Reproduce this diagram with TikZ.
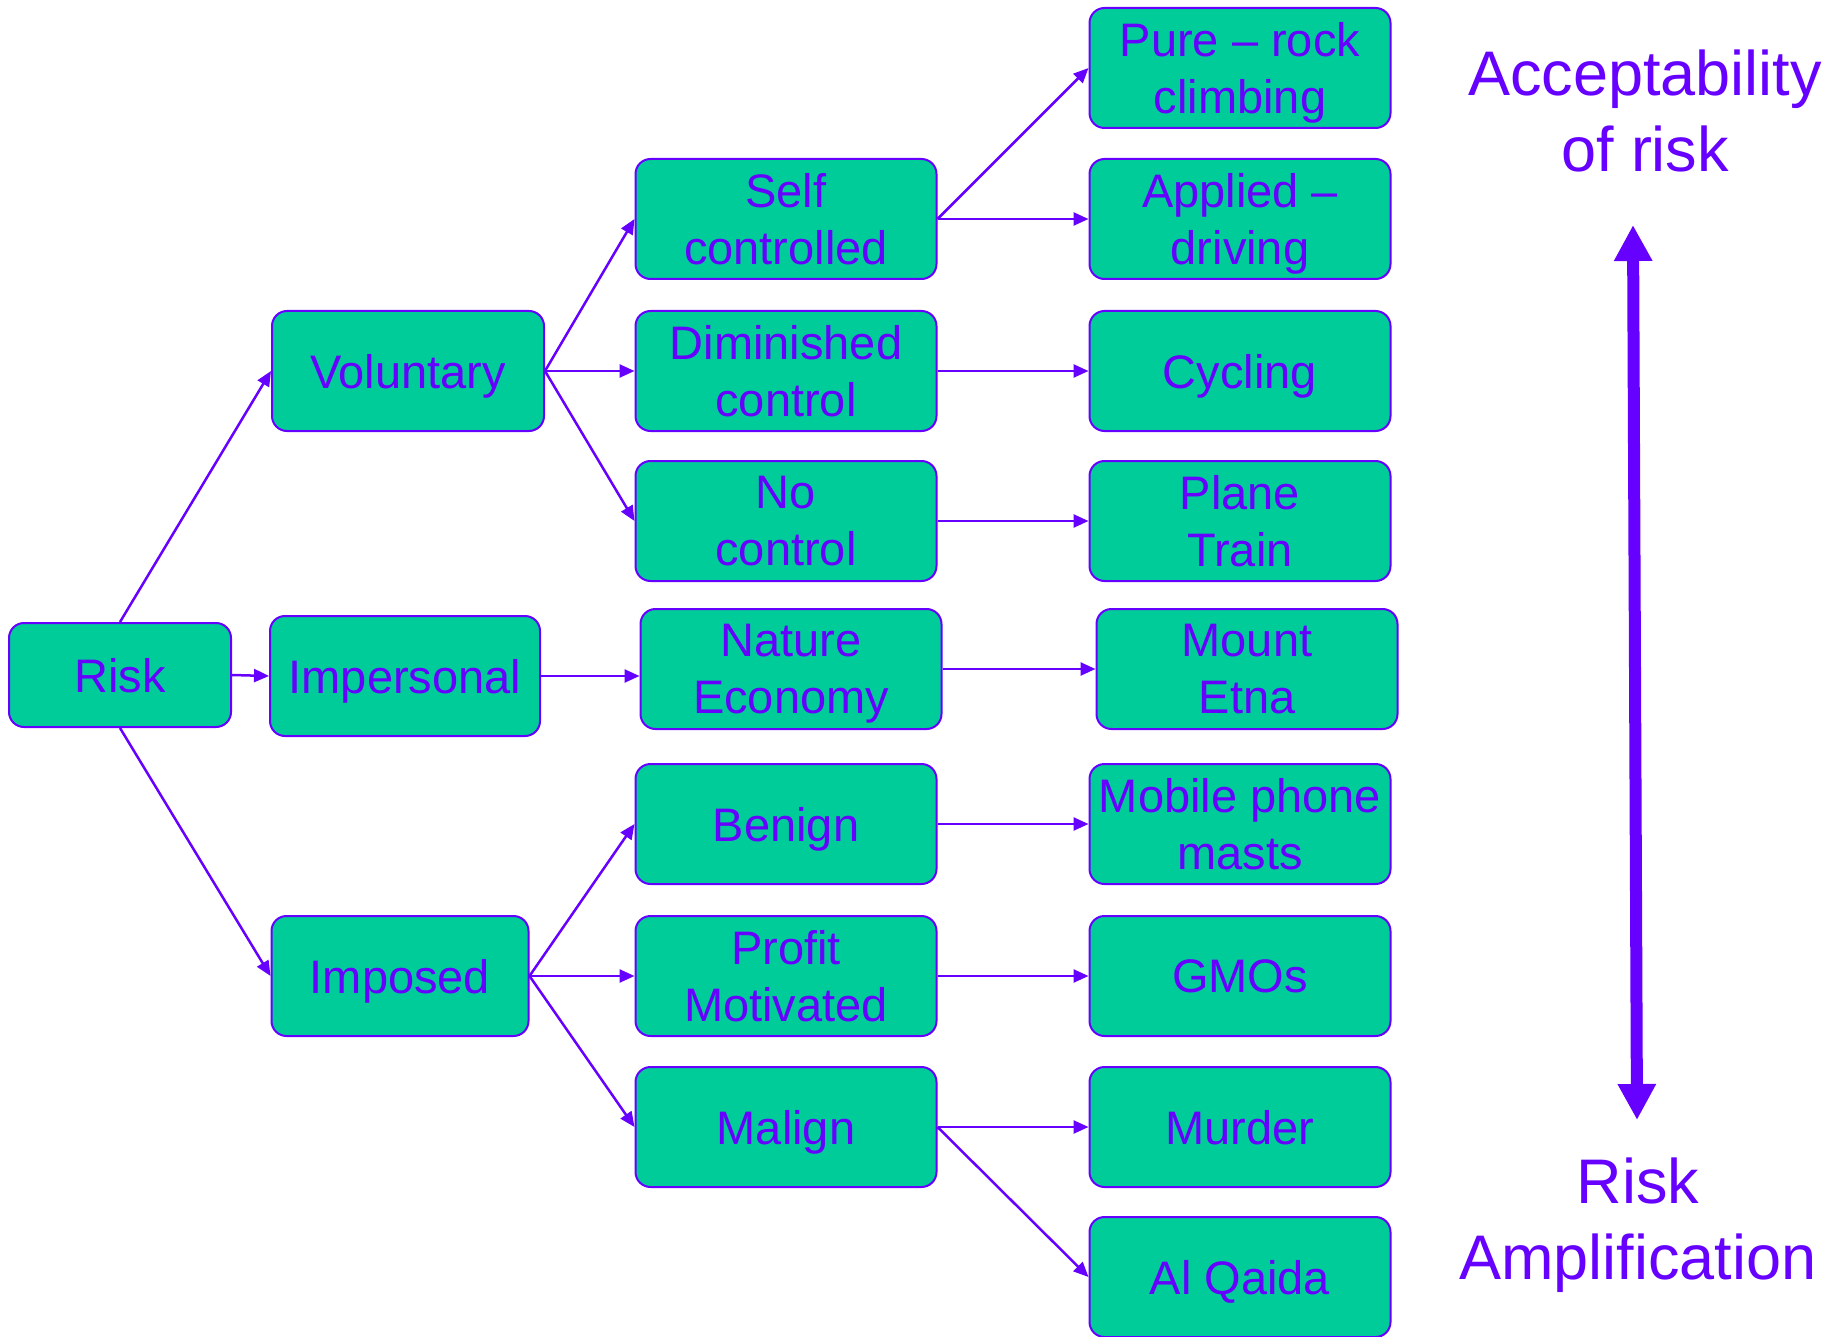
\documentclass[tikz,border=0pt]{standalone}
\usepackage{fontspec}
\setmainfont{Liberation Sans}
\usetikzlibrary{arrows.meta}
\definecolor{pur}{HTML}{6600FF}
\definecolor{grn}{HTML}{00CC99}
\begin{document}
\begin{tikzpicture}[x=1pt,y=-1pt,
  box/.style={draw=pur, fill=grn, line width=2pt, rounded corners=15pt,
    minimum width=301pt, minimum height=120pt, inner sep=0pt, align=center,
    font=\fontsize{47}{57}\selectfont, text=pur, text depth=0pt},
  conn/.style={draw=pur, line width=2.5pt, -{Triangle[length=15pt,width=13pt]}},
  bigtxt/.style={align=center, text=pur, font=\fontsize{63}{76}\selectfont, inner sep=0pt}]
\useasboundingbox (0,0) rectangle (1846,1337);
% column 0/1
\node[box, minimum width=222pt, minimum height=104pt] (risk) at (120,675) {Risk};
\node[box, minimum width=272pt] (vol) at (408,371) {Voluntary};
\node[box, minimum width=270pt] (imp) at (405,676) {Impersonal};
\node[box, minimum width=257pt] (impo) at (400,976) {Imposed};
% column 2
\node[box] (self) at (786,219) {Self\\controlled};
\node[box] (dim) at (786,371) {Diminished\\control};
\node[box] (noc) at (786,521) {No\\control};
\node[box] (nat) at (791,669) {Nature\\Economy};
\node[box] (ben) at (786,824) {Benign};
\node[box] (pro) at (786,976) {Profit\\Motivated};
\node[box] (mal) at (786,1127) {Malign};
% column 3
\node[box] (pure) at (1240,68) {Pure -- rock\\climbing};
\node[box] (appl) at (1240,219) {Applied --\\driving};
\node[box] (cyc) at (1240,371) {Cycling};
\node[box] (plane) at (1240,521) {Plane\\Train};
\node[box] (etna) at (1247,669) {Mount\\Etna};
\node[box] (mob) at (1240,824) {Mobile phone\\masts};
\node[box] (gmo) at (1240,976) {GMOs};
\node[box] (mur) at (1240,1127) {Murder};
\node[box] (alq) at (1240,1277) {Al Qaida};
% connectors
\draw[conn] (risk.north) -- (vol.west);
\draw[conn] (risk.east) -- (imp.west);
\draw[conn] (risk.south) -- (impo.west);
\draw[conn] (vol.east) -- (self.west);
\draw[conn] (vol.east) -- (dim.west);
\draw[conn] (vol.east) -- (noc.west);
\draw[conn] (imp.east) -- (imp.east -| nat.west);
\draw[conn] (impo.east) -- (ben.west);
\draw[conn] (impo.east) -- (pro.west);
\draw[conn] (impo.east) -- (mal.west);
\draw[conn] (self.east) -- (pure.west);
\draw[conn] (self.east) -- (appl.west);
\draw[conn] (dim.east) -- (cyc.west);
\draw[conn] (noc.east) -- (plane.west);
\draw[conn] (nat.east) -- (etna.west);
\draw[conn] (ben.east) -- (mob.west);
\draw[conn] (pro.east) -- (gmo.west);
\draw[conn] (mal.east) -- (mur.west);
\draw[conn] (mal.east) -- (alq.west);
% right side
\node[bigtxt] (acc) at (1645,111) {Acceptability\\of risk};
\node[bigtxt] (amp) at (1638,1225) {Risk\\Amplification};
\coordinate (atop) at (1633,225);
\coordinate (abot) at (1637,1120);
\draw[draw=pur, line width=12pt, {Triangle[length=36pt,width=36pt]}-{Triangle[length=36pt,width=36pt]}] (atop) -- (abot);
\end{tikzpicture}
\end{document}
